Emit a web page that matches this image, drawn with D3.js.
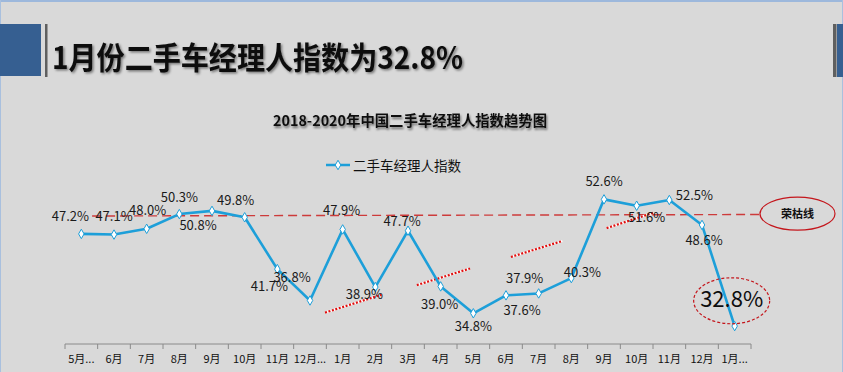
<!DOCTYPE html>
<html><head><meta charset="utf-8">
<script src="https://cdn.jsdelivr.net/npm/d3@7"></script>
<style>
html,body{margin:0;padding:0;background:#d9d9d9;}
svg{display:block;}
</style></head>
<body>
<svg id="c" width="843" height="372"></svg>
<script>
// ---- data ----
const categories = ["5月...","6月","7月","8月","9月","10月","11月","12月...","1月","2月","3月","4月","5月","6月","7月","8月","9月","10月","11月","12月","1月..."];
const values = [47.2,47.1,48.0,50.3,50.8,49.8,41.7,36.8,47.9,38.9,47.7,39.0,34.8,37.6,37.9,40.3,52.6,51.6,52.5,48.6,32.8];
const seriesName = "二手车经理人指数";
const mainTitle = "1月份二手车经理人指数为32.8%";
const chartTitle = "2018-2020年中国二手车经理人指数趋势图";
const thresholdValue = 50;
const thresholdLabel = "荣枯线";
// trend annotations in data terms: [startIndex, startValue, endIndex, endValue]
const trendSegments = [
  [7.46, 34.9, 9.19, 37.7],
  [10.27, 39.2, 11.9, 41.8],
  [13.15, 43.6, 14.73, 46.1],
  [16.08, 48.1, 17.51, 50.5]
];
// ---- layout (label offsets in px relative to points) ----
const labelOffsets = [[-11,-13],[0,-14],[1,-14],[0,-12],[-14,19],[-9,-12],[-8,22],[-18,-18],[-1,-14],[-11,12],[-6,-5],[-1,23],[0,18],[16,20],[-14,-10],[11,-1],[0,-13],[10,16],[25,0],[2,20],[-3,-19]];

const svg = d3.select("#c");
const W = 843, H = 372;
svg.append("rect").attr("width",W).attr("height",H).attr("fill","#d9d9d9");
// window borders
svg.append("rect").attr("x",0).attr("y",0).attr("width",W).attr("height",2).attr("fill","#9db8dc");
svg.append("rect").attr("x",0).attr("y",0).attr("width",1).attr("height",H).attr("fill","#a9c0de");
svg.append("rect").attr("x",W-1).attr("y",0).attr("width",1).attr("height",H).attr("fill","#a9c0de");

const defs = svg.append("defs");
defs.append("filter").attr("id","sh").attr("x","-5%").attr("y","-20%").attr("width","110%").attr("height","150%")
  .append("feDropShadow").attr("dx",1.5).attr("dy",1.5).attr("stdDeviation",0.8).attr("flood-color","#000").attr("flood-opacity",0.45);
defs.append("filter").attr("id","sh2").attr("x","-5%").attr("y","-30%").attr("width","110%").attr("height","170%")
  .append("feDropShadow").attr("dx",1).attr("dy",2).attr("stdDeviation",1.2).attr("flood-color","#000").attr("flood-opacity",0.5);

// title bar
svg.append("rect").attr("x",0).attr("y",24).attr("width",41).attr("height",52).attr("fill","#365f91");
svg.append("rect").attr("x",45).attr("y",24).attr("width",2.5).attr("height",53).attr("fill","#5f5f5f");
svg.append("rect").attr("x",833).attr("y",24).attr("width",3.5).attr("height",53).attr("fill","#5f5f5f");
svg.append("rect").attr("x",837).attr("y",24).attr("width",6).attr("height",53).attr("fill","#365f91");

svg.append("text").attr("x",52).attr("y",69).attr("font-family","'Noto Sans CJK SC','Noto Sans',sans-serif")
  .attr("font-weight","bold").attr("font-size",31).attr("fill","#0d0d0d")
  .attr("textLength",411).attr("lengthAdjust","spacingAndGlyphs").attr("filter","url(#sh)").text(mainTitle);

svg.append("text").attr("x",273).attr("y",126).attr("font-family","'Noto Sans CJK SC','Noto Sans',sans-serif")
  .attr("font-weight","bold").attr("font-size",14.5).attr("fill","#111")
  .attr("textLength",274).attr("lengthAdjust","spacingAndGlyphs").attr("filter","url(#sh2)").text(chartTitle);

// scales
const x = d3.scaleBand().domain(d3.range(categories.length)).range([65,751]).padding(0);
const xi = i => x(0) + x.bandwidth()*(i+0.5);
const y = d3.scaleLinear().domain([30,60]).range([344,152]);

const blue = "#1d9fd9";
const red = "#cc2a2a";

// legend
const lg = svg.append("g");
lg.append("line").attr("x1",326).attr("x2",350).attr("y1",165).attr("y2",165).attr("stroke",blue).attr("stroke-width",2.5);
lg.append("path").attr("d",d3.symbol(d3.symbolDiamond,26)()).attr("transform","translate(338,165)")
  .attr("fill","#fff").attr("stroke",blue).attr("stroke-width",1);
lg.append("text").attr("x",353).attr("y",170.5).attr("font-family","'Noto Sans CJK SC',sans-serif").attr("font-size",13.5).attr("fill","#111").text(seriesName);

// x axis
const ax = svg.append("g");
ax.append("line").attr("x1",x.range()[0]).attr("x2",x.range()[1]).attr("y1",y(30)).attr("y2",y(30)).attr("stroke","#8a8a8a").attr("stroke-width",1);
const bounds = d3.range(categories.length+1).map(i => x.range()[0] + i*x.bandwidth());
ax.selectAll("line.t").data(bounds).join("line").attr("class","t")
  .attr("x1",d=>d).attr("x2",d=>d).attr("y1",y(30)).attr("y2",y(30)+5).attr("stroke","#8a8a8a");
ax.selectAll("text").data(categories).join("text")
  .attr("x",(d,i)=>x(i)+x.bandwidth()/2).attr("y",363)
  .attr("text-anchor","middle").attr("font-family","'Noto Sans CJK SC',sans-serif").attr("font-size",11).attr("fill","#111")
  .text(d=>d);

// threshold dashed line & ellipse label
const ellC = [797.5, 213.7];
svg.append("line").attr("x1",xi(0.33)).attr("x2",ellC[0]-37.5).attr("y1",y(thresholdValue)).attr("y2",y(thresholdValue)-1.5)
  .attr("stroke",red).attr("stroke-width",1.4).attr("stroke-dasharray","9,5").attr("opacity",0.9);
svg.append("ellipse").attr("cx",ellC[0]).attr("cy",ellC[1]).attr("rx",37.5).attr("ry",16.5)
  .attr("fill","none").attr("stroke","#c4161c").attr("stroke-width",1.2);
svg.append("text").attr("x",ellC[0]).attr("y",ellC[1]+4).attr("text-anchor","middle")
  .attr("font-family","'Noto Sans CJK SC',sans-serif").attr("font-weight","bold").attr("font-size",11).attr("fill","#111").text(thresholdLabel);

// trend dotted segments
trendSegments.forEach(s=>{
  [["#fff",2.2,null],["#e01010",2.2,"2,1.6"]].forEach(st=>{
    const l = svg.append("line").attr("x1",xi(s[0])).attr("y1",y(s[1])).attr("x2",xi(s[2])).attr("y2",y(s[3]))
      .attr("stroke",st[0]).attr("stroke-width",st[1]);
    if(st[2]) l.attr("stroke-dasharray",st[2]);
  });
});

// series line
const pts = values.map((v,i)=>[xi(i), y(v)]);
svg.append("path").attr("d",d3.line()(pts)).attr("fill","none").attr("stroke",blue).attr("stroke-width",2.6).attr("stroke-linejoin","round");
svg.selectAll("path.m").data(pts).join("path").attr("class","m")
  .attr("d",d3.symbol(d3.symbolDiamond,26)()).attr("transform",d=>`translate(${d[0]},${d[1]})`)
  .attr("fill","#fff").attr("stroke",blue).attr("stroke-width",1);

// data labels
const last = values.length-1;
svg.selectAll("text.dl").data(values.slice(0,last)).join("text").attr("class","dl")
  .attr("x",(d,i)=>pts[i][0]+labelOffsets[i][0]).attr("y",(d,i)=>pts[i][1]+labelOffsets[i][1])
  .attr("text-anchor","middle").attr("font-family","'Noto Sans CJK SC',sans-serif").attr("font-size",13).attr("fill","#1a1a1a")
  .text(d=>d.toFixed(1)+"%");

// highlight last value
const lp = pts[last];
svg.append("ellipse").attr("cx",lp[0]-3).attr("cy",lp[1]-25.3).attr("rx",38).attr("ry",23)
  .attr("fill","none").attr("stroke","#c4161c").attr("stroke-width",1.2).attr("stroke-dasharray","3,2");
svg.append("text").attr("x",lp[0]+labelOffsets[last][0]).attr("y",lp[1]+labelOffsets[last][1])
  .attr("text-anchor","middle").attr("font-family","'Noto Sans CJK SC',sans-serif").attr("font-size",22).attr("fill","#0d0d0d")
  .text(values[last].toFixed(1)+"%");
</script>
</body></html>
